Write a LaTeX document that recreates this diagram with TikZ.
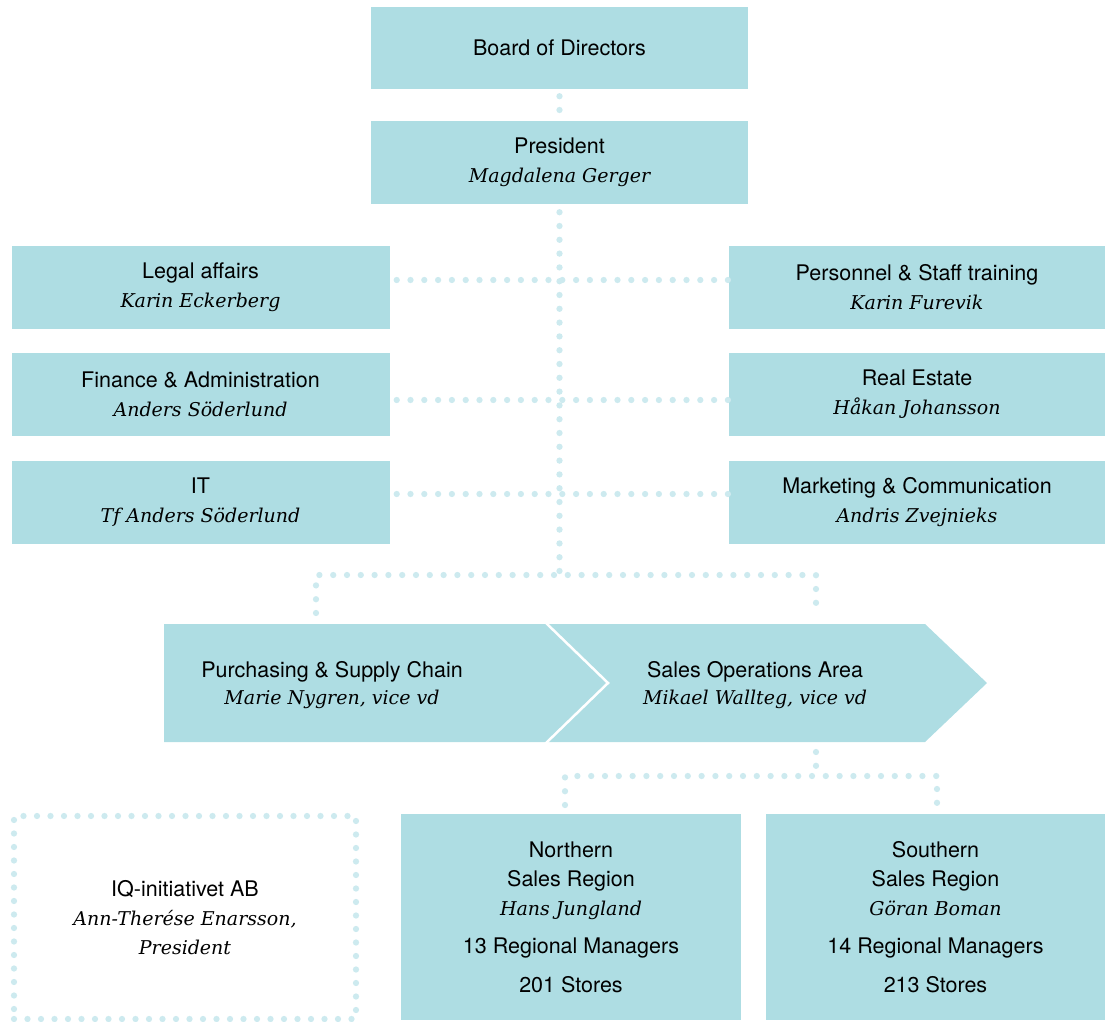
\documentclass[tikz,border=0pt]{standalone}
\usepackage{fontspec}
\setmainfont{TeX Gyre Heros}
\newfontfamily\namefont{DejaVu Serif}
\usetikzlibrary{positioning}
\definecolor{boxblue}{HTML}{AEDDE3}
\definecolor{dotblue}{HTML}{CDEAEF}
\newcommand{\who}[1]{{\namefont\itshape\fontsize{19}{29}\selectfont #1}}

\tikzset{
  unit/.style={fill=boxblue, minimum width=378pt, minimum height=83pt,
    align=center, inner sep=0pt, font=\fontsize{21.5}{29}\selectfont},
  region/.style={unit, minimum width=340pt, minimum height=206pt},
  label text/.style={align=center, inner sep=0pt, font=\fontsize{21.5}{29}\selectfont},
  dotline/.style={dotblue, line width=6.3pt, line cap=round, dash pattern=on 0pt off 13.8pt},
}

\begin{document}
\begin{tikzpicture}[x=1pt, y=-1pt]
\useasboundingbox (0,0) rectangle (1109,1021);

% top of the chart
\node[unit, minimum width=377pt, minimum height=82pt] (board) at (559.5,48) {Board of Directors};
\node[unit, minimum width=377pt] (pres) at (559.5,162.5) {President\\\who{Magdalena Gerger}};

% staff functions
\node[unit] (legal)   at (200.5,287)   {Legal affairs\\\who{Karin Eckerberg}};
\node[unit] (finance) at (200.5,394.5) {Finance \& Administration\\\who{Anders Söderlund}};
\node[unit] (it)      at (200.5,502.5) {IT\\\who{Tf Anders Söderlund}};
\node[unit, minimum width=376pt] (staff)  at (917,287)   {Personnel \& Staff training\\\who{Karin Furevik}};
\node[unit, minimum width=376pt] (estate) at (917,394.5) {Real Estate\\\who{Håkan Johansson}};
\node[unit, minimum width=376pt] (market) at (917,502.5) {Marketing \& Communication\\\who{Andris Zvejnieks}};

\draw[dotline] ([yshift=-7pt]board.south) -- (pres.north);
\coordinate (trunk) at (559.5,575);
\draw[dotline] ([yshift=-8pt]pres.south) -- (trunk);
\draw[dotline] ([xshift=7pt,yshift=7pt]legal.east) -- ([yshift=7pt]staff.west);
\draw[dotline] ([xshift=7pt,yshift=-5.5pt]finance.east) -- ([yshift=-5.5pt]estate.west);
\draw[dotline] ([xshift=7pt,yshift=8.5pt]it.east) -- ([yshift=8.5pt]market.west);

% the two business areas
\fill[boxblue] (164,624) -- (925,624) -- (987,683) -- (925,742) -- (164,742) -- cycle;
\draw[white, line width=2.5pt] (545,622) -- (608,683) -- (545,744);
\node[label text] (buy)  at (332,685) {Purchasing \& Supply Chain\\[-2pt]\who{Marie Nygren, vice vd}};
\node[label text] (sell) at (755,685) {Sales Operations Area\\[-2pt]\who{Mikael Wallteg, vice vd}};

\coordinate (buyin)  at (316,613);
\coordinate (sellin) at (816,613);
\draw[dotline] (buyin) |- (trunk) -| (sellin);

% sales regions
\node[region] (north) at (571,917) {Northern\\Sales Region\\\who{Hans Jungland}\\[9pt]13 Regional Managers\\[10pt]201 Stores};
\node[region, minimum width=339pt] (south) at (935.5,917) {Southern\\Sales Region\\\who{Göran Boman}\\[9pt]14 Regional Managers\\[10pt]213 Stores};

\coordinate (sellout) at (816,752);
\coordinate (fork) at (816,776);
\coordinate (northin) at (565,805);
\coordinate (southin) at (937,805);
\draw[dotline] (sellout) -- (fork);
\draw[dotline] (northin) |- (fork) -| (southin);

% subsidiary
\node[label text, draw=dotblue, line width=6.3pt, line cap=round,
  dash pattern=on 0pt off 13.5pt, minimum width=342pt, minimum height=203pt]
  (iq) at (185,917.5) {IQ-initiativet AB\\\who{Ann-Therése Enarsson,}\\\who{President}};
\end{tikzpicture}
\end{document}
